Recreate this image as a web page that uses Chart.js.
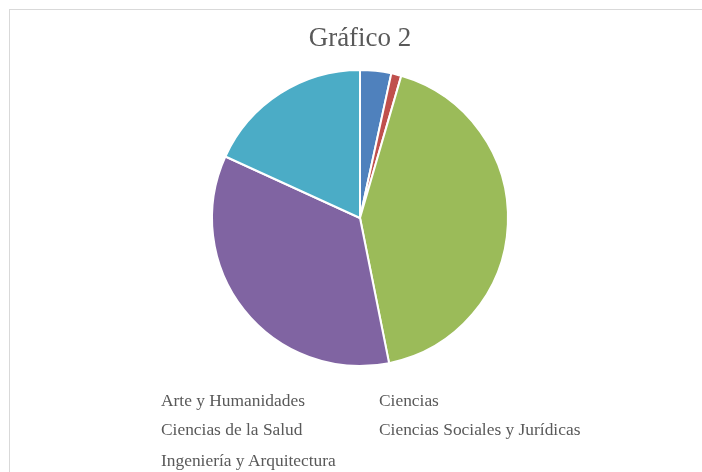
<!DOCTYPE html>
<html>
<head>
<meta charset="utf-8">
<script src="https://cdn.jsdelivr.net/npm/chart.js@4"></script>
<style>
  html, body { margin: 0; padding: 0; background: #fff; }
  #wrap { position: relative; width: 702px; height: 472px; overflow: hidden; }
  #frame { position: absolute; left: 9px; top: 9px; width: 720px; height: 500px; border: 1px solid #d9d9d9; box-sizing: border-box; }
  #title { position: absolute; left: 0; width: 720px; top: 22px; text-align: center;
    font-family: "Liberation Serif", serif; font-size: 27px; color: #595959; }
  .leg { position: absolute; font-family: "Liberation Serif", serif; font-size: 17.4px; color: #595959; white-space: nowrap; }
  canvas { position: absolute; left: 0; top: 0; }
</style>
</head>
<body>
<div id="wrap">
  <div id="frame"></div>
  <canvas id="pieChart" width="702" height="472"></canvas>
  <div id="title">Gráfico 2</div>
</div>
<script>
// Data
const categories = ['Arte y Humanidades', 'Ciencias', 'Ciencias de la Salud', 'Ciencias Sociales y Jurídicas', 'Ingeniería y Arquitectura'];
const values = [3.4, 1.1, 42.4, 35.0, 18.2];
const colors = ['#4F81BD', '#C0504D', '#9BBB59', '#8064A2', '#4BACC6'];

// Legend (text only, two columns)
const legPos = [[161, 390], [379, 390], [161, 419], [379, 419], [161, 450]];
const wrap = document.getElementById('wrap');
categories.forEach((name, i) => {
  const d = document.createElement('div');
  d.className = 'leg';
  d.textContent = name;
  d.style.left = legPos[i][0] + 'px';
  d.style.top = legPos[i][1] + 'px';
  wrap.appendChild(d);
});

const pieChart = new Chart(document.getElementById('pieChart'), {
  type: 'pie',
  data: {
    labels: categories,
    datasets: [{
      data: values,
      backgroundColor: colors,
      borderColor: '#ffffff',
      borderWidth: 2
    }]
  },
  options: {
    responsive: false,
    animation: false,
    layout: { padding: { left: 211, right: 193, top: 69, bottom: 105 } },
    plugins: {
      legend: { display: false },
      title: { display: false },
      tooltip: { enabled: false }
    }
  }
});
</script>
</body>
</html>
